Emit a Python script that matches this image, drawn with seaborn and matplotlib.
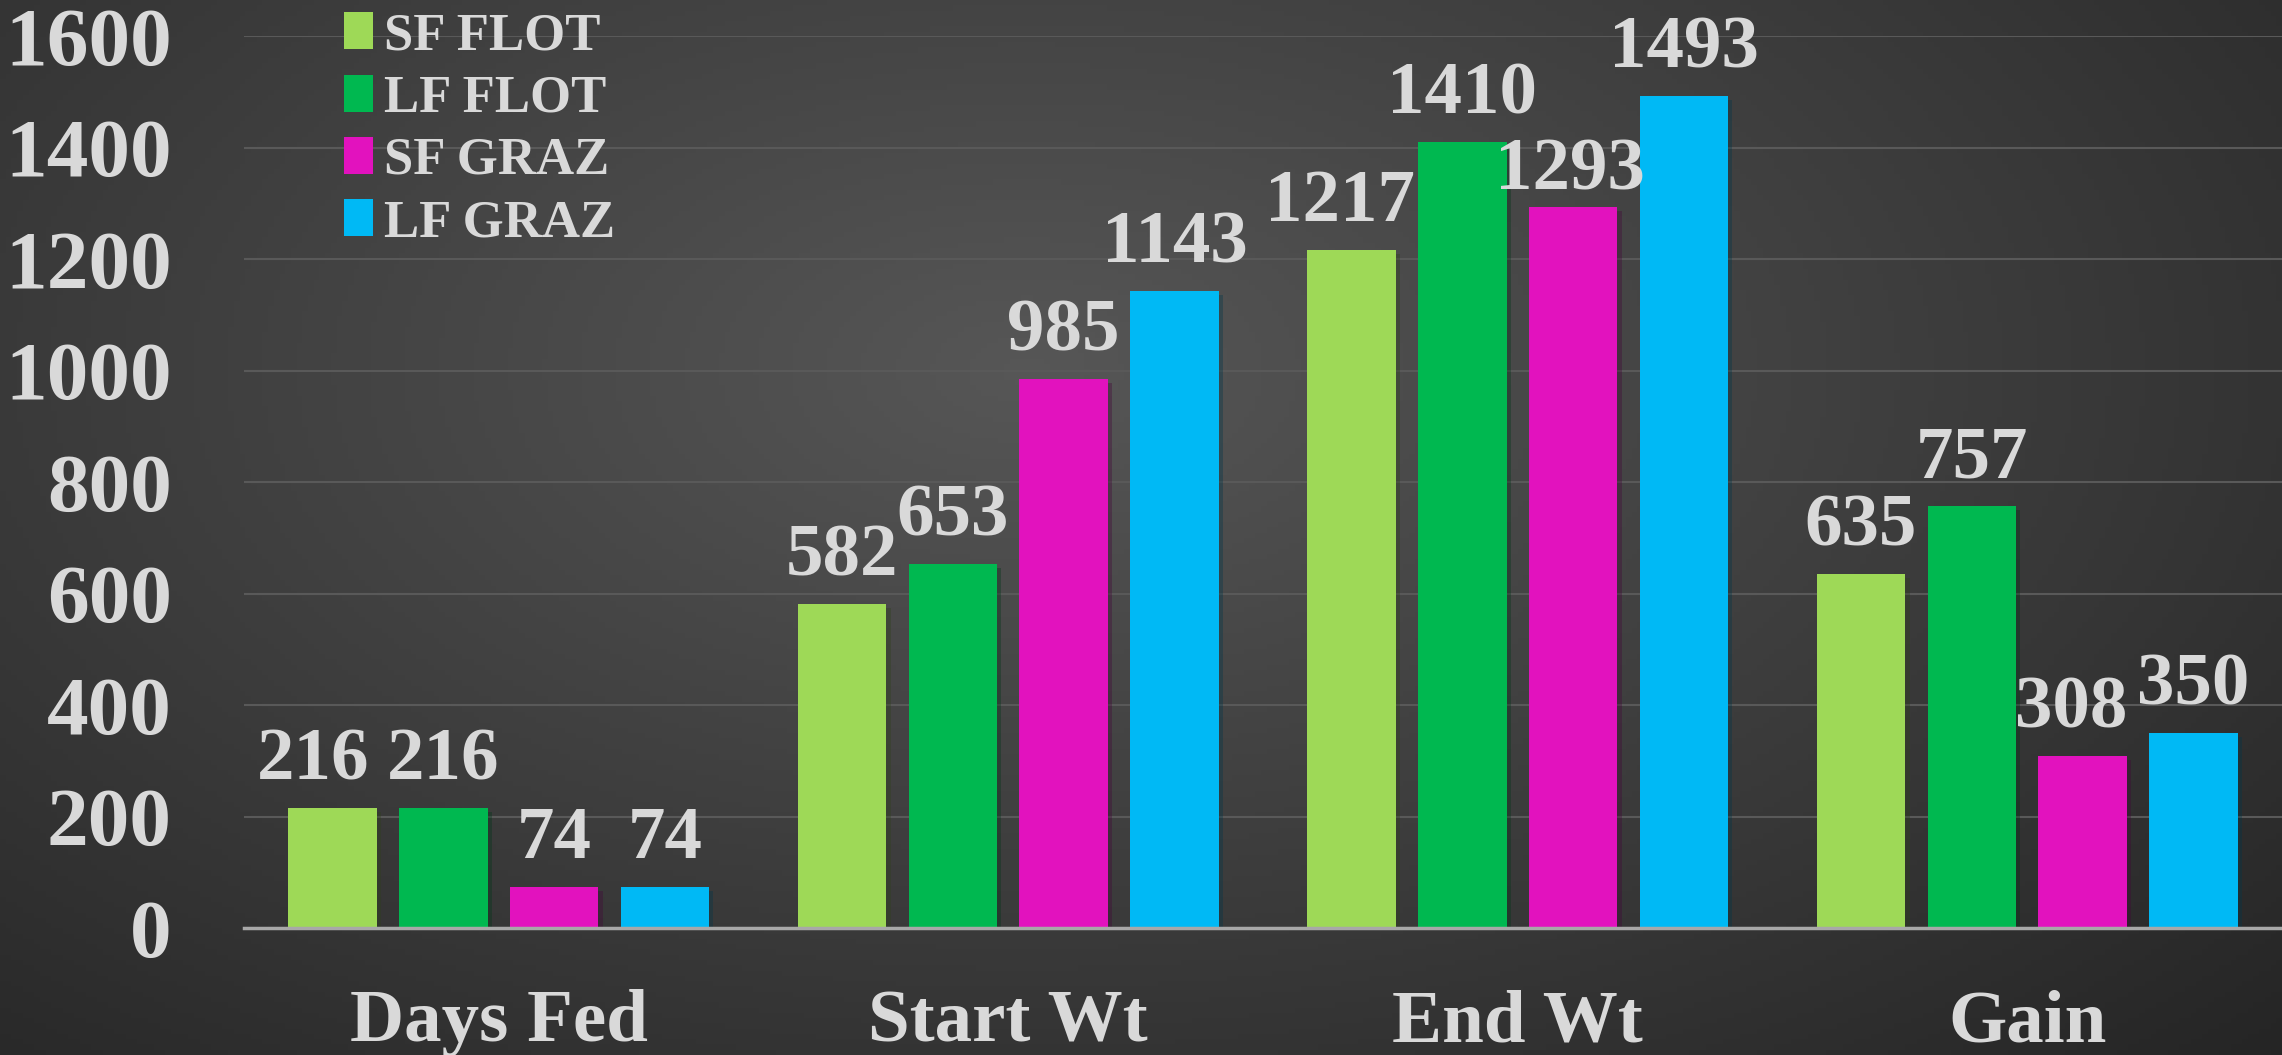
import numpy as np
import pandas as pd
import matplotlib
matplotlib.use("Agg")
import matplotlib.pyplot as plt
import matplotlib.patheffects as pe
import seaborn as sns

categories = ["Days Fed", "Start Wt", "End Wt", "Gain"]
series = ["SF FLOT", "LF FLOT", "SF GRAZ", "LF GRAZ"]
sf_flot = [216, 582, 1217, 635]
lf_flot = [216, 653, 1410, 757]
sf_graz = [74, 985, 1293, 308]
lf_graz = [74, 1143, 1493, 350]
yticks = [0, 200, 400, 600, 800, 1000, 1200, 1400, 1600]
colors = ["#9ED957", "#00B850", "#E212BE", "#00B9F5"]

rows = []
for s, vals in zip(series, [sf_flot, lf_flot, sf_graz, lf_graz]):
    for c, v in zip(categories, vals):
        rows.append({"Category": c, "Series": s, "Value": v})
df = pd.DataFrame(rows)

sns.set_theme(style="dark")
plt.rcParams["font.family"] = ["Liberation Serif", "DejaVu Serif"]
plt.rcParams["font.weight"] = "bold"

W, H = 2282, 1055
fig = plt.figure(figsize=(W / 100, H / 100), dpi=100)

# background gradient
bg = fig.add_axes([0, 0, 1, 1], zorder=-10)
yy, xx = np.mgrid[0:1:200j, 0:1:400j]
d = np.sqrt(((xx - 0.45) / 0.75) ** 2 + ((yy - 0.35) / 0.9) ** 2)
lum = 0.34 - 0.19 * np.clip(d, 0, 1.2)
img = np.dstack([lum, lum, lum])
bg.imshow(img, aspect="auto", extent=[0, 1, 0, 1], origin="upper")
bg.set_axis_off()

ax = fig.add_axes([244 / W, 1 - 928 / H, 1 - 244 / W, (928 - 36) / H])
ax.set_facecolor("none")
sns.barplot(data=df, x="Category", y="Value", hue="Series", order=categories,
            hue_order=series, palette=colors, width=0.87, gap=0.2,
            saturation=1, ax=ax, legend=True, zorder=3, linewidth=0,
            edgecolor="none")

txt_color = "#D9D9D9"
# label nudges (points) keyed by (category index, series index)
nudges = {(0, 0): (-14, 0), (2, 0): (-8, 0), (2, 2): (-2, -8), (3, 2): (-8, 0)}
for i, cont in enumerate(ax.containers):
    for p in cont:
        p.set_path_effects([pe.SimplePatchShadow(offset=(3, -3), alpha=0.35), pe.Normal()])
    texts = ax.bar_label(cont, fmt="%d", padding=9, color=txt_color, fontsize=54,
                         fontweight="bold", clip_on=False)
    for j, t in enumerate(texts):
        if (j, i) in nudges:
            dx, dy = nudges[(j, i)]
            x0, y0 = t.xyann
            t.xyann = (x0 + dx, y0 + dy)

ax.set_ylim(0, 1600)
ax.set_xlim(-0.5, 3.5)
ax.set_yticks(yticks)
ax.set_yticklabels([str(t) for t in yticks])
ax.tick_params(axis="y", length=0, pad=52, labelsize=60, labelcolor=txt_color)
ax.tick_params(axis="x", length=0, pad=44, labelsize=54, labelcolor=txt_color)
for lab in ax.get_xticklabels() + ax.get_yticklabels():
    lab.set_fontweight("bold")
ax.set_xlabel("")
ax.set_ylabel("")
ax.grid(axis="y", color="#595959", linewidth=1.5, zorder=0)
ax.grid(axis="x", visible=False)
for s in ["top", "right", "left"]:
    ax.spines[s].set_visible(False)
ax.spines["bottom"].set_color("#A8A8A8")
ax.spines["bottom"].set_linewidth(2.5)
ax.spines["bottom"].set_zorder(4)

leg = ax.get_legend()
handles = leg.legend_handles
leg.remove()
fig.legend(handles, series, loc="upper left", bbox_to_anchor=(318 / W, 1 + 14 / H),
           frameon=False, labelcolor=txt_color, handlelength=0.55,
           handleheight=0.7, handletextpad=0.2, labelspacing=0.27, borderpad=0,
           prop={"weight": "bold", "size": 38})

fig.savefig("out.png", dpi=100)
